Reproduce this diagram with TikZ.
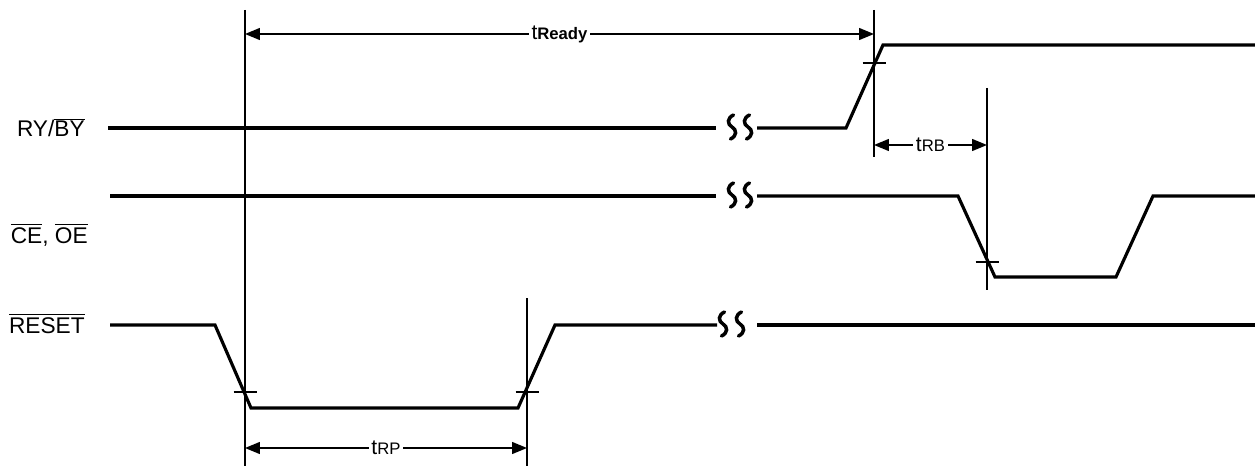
\documentclass[tikz,border=0pt]{standalone}
\usepackage{fontspec}
\setmainfont{Liberation Sans}
\usetikzlibrary{arrows.meta}
\tikzset{
  signal/.style={line width=1.8pt, line join=miter},
  refline/.style={line width=1pt},
  tickmark/.style={line width=0.7pt},
  dimline/.style={line width=0.8pt,
    {Triangle[length=8.5pt,width=6.8pt]}-{Triangle[length=8.5pt,width=6.8pt]}},
  dimlabel/.style={fill=white, inner sep=1.5pt},
  signame/.style={anchor=base east, inner sep=0pt, font=\fontsize{12.9}{15}\selectfont}
}
\newcommand{\tsub}[1]{{\fontsize{12}{14}\selectfont t}{\fontsize{9.5}{11}\selectfont #1}}
\begin{document}
\begin{tikzpicture}[x=0.02cm, y=-0.02cm]
\useasboundingbox (0,0) rectangle (1255,466);

% signal names
\node[signame] (ryby) at (85,137) {RY/$\overline{\mbox{BY}}$};
\node[signame] (ceoe) at (88,243) {$\overline{\mbox{CE}}$, $\overline{\mbox{OE}}$};
\node[signame] (reset) at (85,333) {$\overline{\mbox{RESET}}$};

% waveforms
\draw[signal] (108,128)--(716,128);
\draw[signal] (757,128)--(846,128)--(883,45)--(1255,45);
\draw[signal] (110,196)--(716,196);
\draw[signal] (757,196)--(958,196)--(995,277)--(1116,277)--(1153,196)--(1255,196);
\draw[signal] (110,325)--(215,325)--(251,408)--(518,408)--(555,325)--(717,325);
\draw[signal] (757,325)--(1255,325);

% breaks
\foreach \x/\y in {732/127, 748/127, 732/195, 748/195, 723/324, 740/324}
  \draw[line width=2pt, line cap=round] (\x+1.5,\y-12) .. controls (\x-5,\y-9) and (\x-5,\y-3) .. (\x,\y)
    .. controls (\x+5,\y+3) and (\x+5,\y+9) .. (\x-1.5,\y+12);

% crossing points
\coordinate (rstdn) at (245,392);
\coordinate (rstup) at (527,392);
\coordinate (rdyup) at (874,63);
\coordinate (cedn) at (987,262);

% reference lines
\draw[refline] (245,10)--(rstdn)--(245,466);
\draw[refline] (527,298)--(rstup)--(527,466);
\draw[refline] (874,10)--(rdyup)--(874,157);
\draw[refline] (987,88)--(cedn)--(987,290);

% ticks
\foreach \c in {rstdn, rstup, rdyup, cedn}
  \draw[tickmark] ([xshift=-11.5*0.02cm]\c)--([xshift=11.5*0.02cm]\c);

% timing
\draw[dimline] (245,34)--node[dimlabel] (tready) {\tsub{\textbf{Ready}}} (874,34);
\draw[dimline] (874,145)--node[dimlabel] (trb) {\tsub{RB}} (987,145);
\draw[dimline] (245,448)--node[dimlabel] (trp) {\tsub{RP}} (527,448);
\end{tikzpicture}
\end{document}
